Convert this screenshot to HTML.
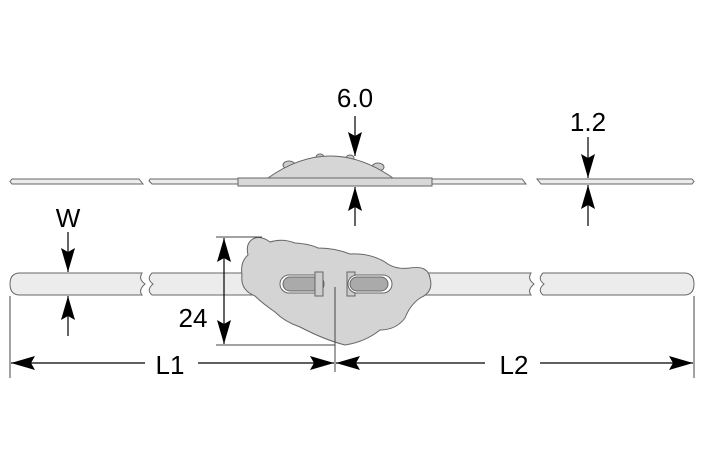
<!DOCTYPE html>
<html><head><meta charset="utf-8"><style>
html,body{margin:0;padding:0;background:#fff}
svg{display:block}
text{font-family:"Liberation Sans","DejaVu Sans",sans-serif;fill:#000}
</style></head><body>
<svg width="709" height="472" viewBox="0 0 709 472" xmlns="http://www.w3.org/2000/svg">
<defs>
<marker id="a" viewBox="0 0 24 14" refX="24" refY="7" markerWidth="24" markerHeight="14" markerUnits="userSpaceOnUse" orient="auto"><path d="M0,0 L24,7 L0,14 L4,7z" fill="#000"/></marker>
</defs>
<g stroke="#666" stroke-width="1" fill="#ececec">
<path d="M12,179 L139,179 L143,184 L12,184 L10,181.5z"/>
<path d="M150,179 L522,179 L526,184 L152,184 L149,181z"/>
<path d="M537,179 L692,179 L694,181.5 L692,184 L541,184z"/>
<ellipse cx="289" cy="165" rx="6" ry="4" fill="#ccc"/>
<ellipse cx="320" cy="157" rx="4" ry="3" fill="#ccc"/>
<ellipse cx="350" cy="158" rx="4" ry="3" fill="#ccc"/>
<ellipse cx="378" cy="167" rx="6" ry="4" fill="#ccc"/>
<path d="M268,178 Q330,134 393,178z" fill="#d6d6d6"/>
<rect x="238" y="178" width="194" height="8" fill="#d8d8d8"/>
<path d="M20,273 L142,273 Q138,279 145,284 Q138,290 142,295 L20,295 Q10,295 10,284 Q10,273 20,273z"/>
<path d="M152,273 L531,273 Q527,279 534,284 Q527,290 531,295 L152,295 Q146,290 153,284 Q146,279 152,273z"/>
<path d="M543,273 L684,273 Q694,273 694,284 Q694,295 684,295 L543,295 Q537,290 544,284 Q537,279 543,273z"/>
<path d="M255,238 Q262,236 270,242 Q282,238 295,243 Q310,244 318,248 Q335,248 350,254 Q370,253 385,262 Q395,270 410,268 Q428,265 430,278 Q434,292 420,298 Q410,305 405,318 Q396,330 380,330 Q365,342 345,345 Q325,340 300,327 Q285,322 275,312 Q262,303 255,296 Q240,290 242,275 Q240,262 248,255 Q245,242 255,238z" fill="#d4d4d4"/>
<rect x="280" y="275" width="44" height="18" rx="9" fill="#fff"/>
<rect x="283" y="277" width="38" height="14" rx="7" fill="#aaa"/>
<rect x="315" y="272" width="8" height="24" fill="#ccc"/>
<rect x="347" y="272" width="8" height="24" fill="#ccc"/>
<rect x="348" y="275" width="44" height="18" rx="9" fill="#fff"/>
<rect x="350" y="277" width="38" height="14" rx="7" fill="#aaa"/>
</g>
<g stroke="#444" stroke-width="1" fill="none">
<line x1="335" y1="287" x2="335" y2="372"/>
<line x1="216" y1="237" x2="262" y2="237"/>
<line x1="216" y1="345" x2="335" y2="345"/>
<line x1="10" y1="296" x2="10" y2="378"/>
<line x1="694" y1="296" x2="694" y2="378"/>
</g>
<g stroke="#000" stroke-width="1.2" fill="none">
<line x1="355" y1="116" x2="355" y2="156" marker-end="url(#a)"/>
<line x1="355" y1="226" x2="355" y2="187" marker-end="url(#a)"/>
<line x1="588" y1="137" x2="588" y2="178" marker-end="url(#a)"/>
<line x1="588" y1="226" x2="588" y2="185" marker-end="url(#a)"/>
<line x1="68" y1="232" x2="68" y2="272" marker-end="url(#a)"/>
<line x1="68" y1="336" x2="68" y2="296" marker-end="url(#a)"/>
<line x1="224" y1="290" x2="224" y2="238" marker-end="url(#a)"/>
<line x1="224" y1="290" x2="224" y2="344" marker-end="url(#a)"/>
<line x1="145" y1="363" x2="11" y2="363" marker-end="url(#a)"/>
<line x1="198" y1="363" x2="334" y2="363" marker-end="url(#a)"/>
<line x1="485" y1="363" x2="336" y2="363" marker-end="url(#a)"/>
<line x1="540" y1="363" x2="693" y2="363" marker-end="url(#a)"/>
</g>
<g font-size="26">
<text x="355" y="107" text-anchor="middle">6.0</text>
<text x="588" y="131" text-anchor="middle">1.2</text>
<text x="68" y="227" text-anchor="middle">W</text>
<text x="193" y="327" text-anchor="middle">24</text>
<text x="170" y="374" text-anchor="middle">L1</text>
<text x="514" y="374" text-anchor="middle">L2</text>
</g>
</svg>
</body></html>
